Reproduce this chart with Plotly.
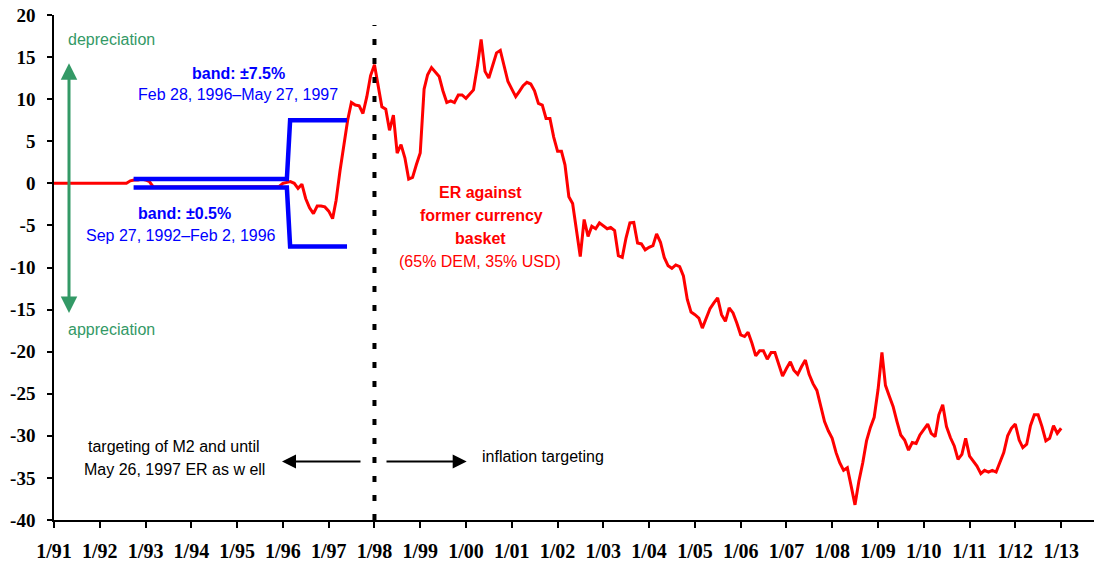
import plotly.graph_objects as go
import pandas as pd

# ---------------- data ----------------
# CZK exchange rate against former currency basket (65% DEM, 35% USD), % deviation, monthly
er_1991 = [0, 0, 0, 0, 0, 0, 0, 0, 0, 0, 0, 0]
er_1992 = [0, 0, 0, 0, 0, 0, 0, 0, 0.3, 0.4, 0.4, 0.5]
er_1993 = [0.4, 0.2, -0.4, -0.45, -0.45, -0.45, -0.45, -0.45, -0.45, -0.45, -0.45, -0.45]
er_1994 = [-0.45, -0.45, -0.45, -0.45, -0.45, -0.45, -0.45, -0.45, -0.45, -0.45, -0.45, -0.45]
er_1995 = [-0.45, -0.45, -0.45, -0.45, -0.45, -0.45, -0.45, -0.45, -0.45, -0.45, -0.45, -0.4]
er_1996 = [0.0, 0.1, 0.2, 0.0, -0.6, -0.1, -1.8, -2.9, -3.6, -2.7, -2.7, -2.8]
er_1997 = [-3.3, -4.2, -2.0, 1.5, 4.5, 7.5, 9.6, 9.3, 9.2, 8.3, 10.3, 12.8]
er_1998 = [14.1, 11.2, 9.1, 8.8, 6.3, 8.1, 3.6, 4.6, 3.0, 0.5, 0.7, 2.2]
er_1999 = [3.6, 11.2, 12.9, 13.75, 13.2, 12.7, 11.0, 9.6, 9.8, 9.6, 10.5, 10.5]
er_2000 = [10.1, 10.6, 11.1, 13.9, 17.1, 13.3, 12.5, 14.0, 15.5, 15.8, 14.0, 12.1]
er_2001 = [11.2, 10.3, 10.9, 11.6, 12.0, 11.8, 11.0, 9.5, 9.3, 7.7, 7.7, 5.5]
er_2002 = [3.8, 3.8, 2.2, -1.6, -2.4, -5.5, -8.7, -4.3, -6.3, -5.1, -5.4, -4.7]
er_2003 = [-5.1, -5.4, -5.25, -5.6, -8.6, -8.8, -6.5, -4.7, -4.65, -7.1, -7.2, -7.9]
er_2004 = [-7.6, -7.4, -6.0, -7.0, -8.8, -9.8, -10.1, -9.7, -9.9, -11.0, -13.8, -15.3]
er_2005 = [-15.6, -16.0, -17.2, -16.0, -14.9, -14.2, -13.6, -15.6, -16.4, -14.8, -15.4, -16.6]
er_2006 = [-18.0, -18.2, -17.7, -19.0, -20.5, -19.9, -19.9, -20.9, -20.1, -20.1, -21.5, -22.9]
er_2007 = [-22.0, -21.2, -22.2, -22.7, -21.8, -21.0, -22.7, -23.8, -24.6, -26.3, -28.3, -29.4]
er_2008 = [-30.3, -32.0, -33.2, -34.1, -33.8, -36.0, -38.2, -35.4, -33.2, -30.6, -29.0, -27.8]
er_2009 = [-24.5, -20.1, -24.0, -25.3, -26.5, -28.3, -29.9, -30.5, -31.7, -30.8, -30.9, -29.9]
er_2010 = [-29.2, -28.6, -29.7, -30.1, -27.5, -26.3, -28.9, -30.2, -31.2, -32.8, -32.2, -30.3]
er_2011 = [-32.4, -33.0, -33.6, -34.5, -34.1, -34.3, -34.1, -34.3, -33.2, -32.0, -30.0, -29.1]
er_2012 = [-28.6, -30.5, -31.4, -31.0, -28.8, -27.5, -27.5, -28.9, -30.6, -30.3, -28.8, -29.7]
er_2013 = [-29.1]

# fluctuation band
band_dates = ["1992-09-27", "1996-02-02", "1996-02-28", "1997-05-27"]
band_upper = [0.5, 0.5, 7.5, 7.5]
band_lower = [-0.5, -0.5, -7.5, -7.5]

regime_change = "1998-01-01"

tick_dates = [f"{y}-01-01" for y in range(1991, 2014)]
tick_labels = ["1/91", "1/92", "1/93", "1/94", "1/95", "1/96", "1/97", "1/98", "1/99",
               "1/00", "1/01", "1/02", "1/03", "1/04", "1/05", "1/06", "1/07", "1/08",
               "1/09", "1/10", "1/11", "1/12", "1/13"]
y_ticks = [20, 15, 10, 5, 0, -5, -10, -15, -20, -25, -30, -35, -40]
y_tick_labels = ["20", "15", "10", "5", "0", "-5", "-10", "-15", "-20", "-25", "-30", "-35", "-40"]

# ---------------- build ----------------
er_values = (er_1991 + er_1992 + er_1993 + er_1994 + er_1995 + er_1996 + er_1997 +
             er_1998 + er_1999 + er_2000 + er_2001 + er_2002 + er_2003 + er_2004 +
             er_2005 + er_2006 + er_2007 + er_2008 + er_2009 + er_2010 + er_2011 +
             er_2012 + er_2013)
er_dates = pd.date_range("1991-01-01", periods=len(er_values), freq="MS")

RED = "#FF0000"
BLUE = "#0000FF"
GREEN = "#339966"
SANS = "Liberation Sans"
SERIF = "Liberation Serif"

fig = go.Figure()
fig.add_trace(go.Scatter(x=er_dates, y=er_values, mode="lines",
                         line=dict(color=RED, width=3), name="ER", hoverinfo="skip"))
fig.add_trace(go.Scatter(x=band_dates, y=band_upper, mode="lines",
                         line=dict(color=BLUE, width=4.5), name="upper"))
fig.add_trace(go.Scatter(x=band_dates, y=band_lower, mode="lines",
                         line=dict(color=BLUE, width=4.5), name="lower"))

fig.add_shape(type="line", xref="x", yref="paper", x0=regime_change, x1=regime_change,
              y0=0, y1=0.98, line=dict(color="black", width=4, dash="6px,13px"))

# plot area in pixels: x 54..1094, y 15..520
L, R, T, B = 54, 1094, 15, 520
def px(x):
    return (x - L) / (R - L)
def py(y):
    return (B - y) / (B - T)

def txt(text, x, y, color, bold=False, size=16):
    fig.add_annotation(xref="paper", yref="paper", x=px(x), y=py(y), text=text,
                       showarrow=False, xanchor="center", yanchor="middle",
                       font=dict(family=SANS, size=size, color=color,
                                 weight="bold" if bold else "normal"))

txt("depreciation", 111.5, 39, GREEN)
txt("appreciation", 111.5, 329, GREEN)
txt("band: ±7.5%", 238.5, 73.5, BLUE, bold=True)
txt("Feb 28, 1996–May 27, 1997", 237.5, 94.5, BLUE)
txt("band: ±0.5%", 184.5, 213.5, BLUE, bold=True)
txt("Sep 27, 1992–Feb 2, 1996", 181, 235.5, BLUE)
txt("ER against", 480, 192, RED, bold=True)
txt("former currency", 481, 215, RED, bold=True)
txt("basket", 480, 239, RED, bold=True)
txt("(65% DEM, 35% USD)", 480, 261.5, RED)
txt("targeting of M2 and until", 174, 446.5, "black")
txt("May 26, 1997 ER as w ell", 174.7, 469.5, "black")
txt("inflation targeting", 543.3, 456, "black")

# green double arrow
fig.add_annotation(xref="paper", yref="paper", x=px(69), y=py(313), ax=0, ay=61.7 - 313,
                   text="", showarrow=True, arrowside="end+start", arrowhead=2,
                   startarrowhead=2, arrowsize=1.1, startarrowsize=1.1, arrowwidth=3,
                   arrowcolor=GREEN, standoff=0, startstandoff=0)
# black arrows
fig.add_annotation(xref="paper", yref="paper", x=px(282), y=py(461.5), ax=362 - 282, ay=0,
                   text="", showarrow=True, arrowhead=2, arrowsize=1.4, arrowwidth=2,
                   arrowcolor="black", standoff=0)
fig.add_annotation(xref="paper", yref="paper", x=px(466.7), y=py(461.5), ax=385 - 466.7, ay=0,
                   text="", showarrow=True, arrowhead=2, arrowsize=1.4, arrowwidth=2,
                   arrowcolor="black", standoff=0)

fig.update_xaxes(type="date", range=["1991-01-01", "2013-09-20"],
                 tickvals=tick_dates, ticktext=tick_labels,
                 ticks="outside", ticklen=6, tickwidth=1.5, tickcolor="black",
                 showline=True, linecolor="black", linewidth=1.5,
                 showgrid=False, zeroline=False, ticklabelstandoff=6,
                 tickfont=dict(family=SERIF, size=20, color="black", weight="bold"))
fig.update_yaxes(range=[-40, 20], tickvals=y_ticks, ticktext=y_tick_labels,
                 ticks="outside", ticklen=5, tickwidth=1.5, tickcolor="black",
                 showline=True, linecolor="black", linewidth=1.5,
                 showgrid=False, zeroline=False, ticklabelstandoff=8,
                 tickfont=dict(family=SERIF, size=19, color="black", weight="bold"))

fig.update_layout(width=1094, height=563, margin=dict(l=L, r=0, t=T, b=563 - B),
                  plot_bgcolor="white", paper_bgcolor="white", showlegend=False)

fig.write_html("out.html", config={"displayModeBar": False},
               post_script="document.body.style.margin='0';document.body.style.overflow='hidden';")
